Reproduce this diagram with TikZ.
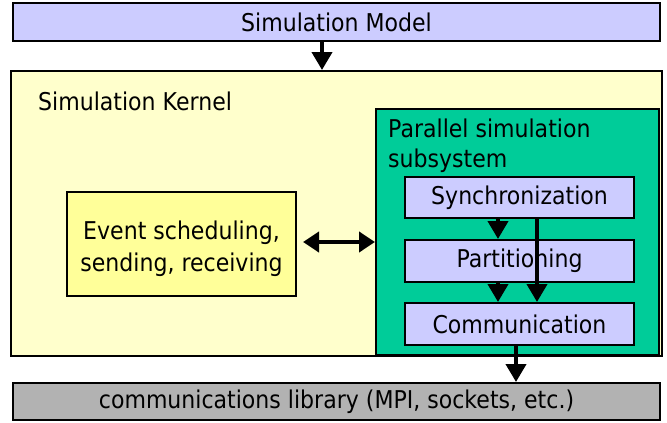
\documentclass[tikz,border=0pt]{standalone}
\usepackage{fontspec}
\setmainfont[FakeStretch=0.9]{DejaVu Sans}
\usetikzlibrary{arrows.meta}
\definecolor{lav}{HTML}{CCCCFF}
\definecolor{kern}{HTML}{FFFFCC}
\definecolor{evt}{HTML}{FFFF99}
\definecolor{grn}{HTML}{00CC99}
\definecolor{libg}{HTML}{B2B2B2}
\tikzset{
  box/.style={draw=black, line width=2pt, inner sep=0pt, align=center,
    font=\fontsize{24.5}{32}\selectfont},
  arr/.style={line width=4pt, -{Triangle[length=18pt,width=20pt]}},
  darr/.style={line width=4pt, {Triangle[length=16pt,width=20pt]}-{Triangle[length=16pt,width=20pt]}},
  lbl/.style={inner sep=0pt, anchor=north west, align=left, font=\fontsize{24.5}{30}\selectfont}
}
\begin{document}
\begin{tikzpicture}[x=1pt,y=-1pt]
\useasboundingbox (0,0) rectangle (667,423);
\node[box, fill=lav, minimum width=647pt, minimum height=38pt] (model) at (336.5,22) {Simulation Model};
\node[box, fill=kern, minimum width=651pt, minimum height=285pt] (kernel) at (336.5,213.5) {};
\node[lbl] (klbl) at (38,92) {Simulation Kernel};
\node[box, fill=grn, minimum width=283pt, minimum height=246pt] (par) at (517.5,232) {};
\node[lbl] (plbl) at (388,119) {Parallel simulation\\subsystem};
\node[box, fill=lav, minimum width=229pt, minimum height=41pt] (sync) at (519.5,197.5) {Synchronization};
\node[box, fill=lav, minimum width=229pt, minimum height=42pt] (part) at (519.5,261) {Partitioning};
\node[box, fill=lav, minimum width=229pt, minimum height=42pt] (comm) at (519.5,324) {Communication};
\node[box, fill=evt, minimum width=229pt, minimum height=104pt] (event) at (181.5,244)
  {\raisebox{-5pt}[\height][\depth]{\begin{tabular}{@{}c@{}}Event scheduling,\\sending, receiving\end{tabular}}};
\node[box, fill=libg, minimum width=647pt, minimum height=37pt] (lib) at (336.5,401.5) {communications library (MPI, sockets, etc.)};
\coordinate (xa) at (322,0);
\coordinate (xb) at (498,0);
\coordinate (xc) at (537,0);
\coordinate (xd) at (516,0);
\coordinate (ya) at (0,242);
\draw[arr] (model.south -| xa) -- (kernel.north -| xa);
\draw[darr] (event.east |- ya) ++(6,0) -- (par.west |- ya);
\draw[arr] (sync.south -| xb) -- (part.north -| xb);
\draw[arr] (part.south -| xb) -- (comm.north -| xb);
\draw[arr] (sync.south -| xc) -- (comm.north -| xc);
\draw[arr] (comm.south -| xd) -- (lib.north -| xd);
\end{tikzpicture}
\end{document}
